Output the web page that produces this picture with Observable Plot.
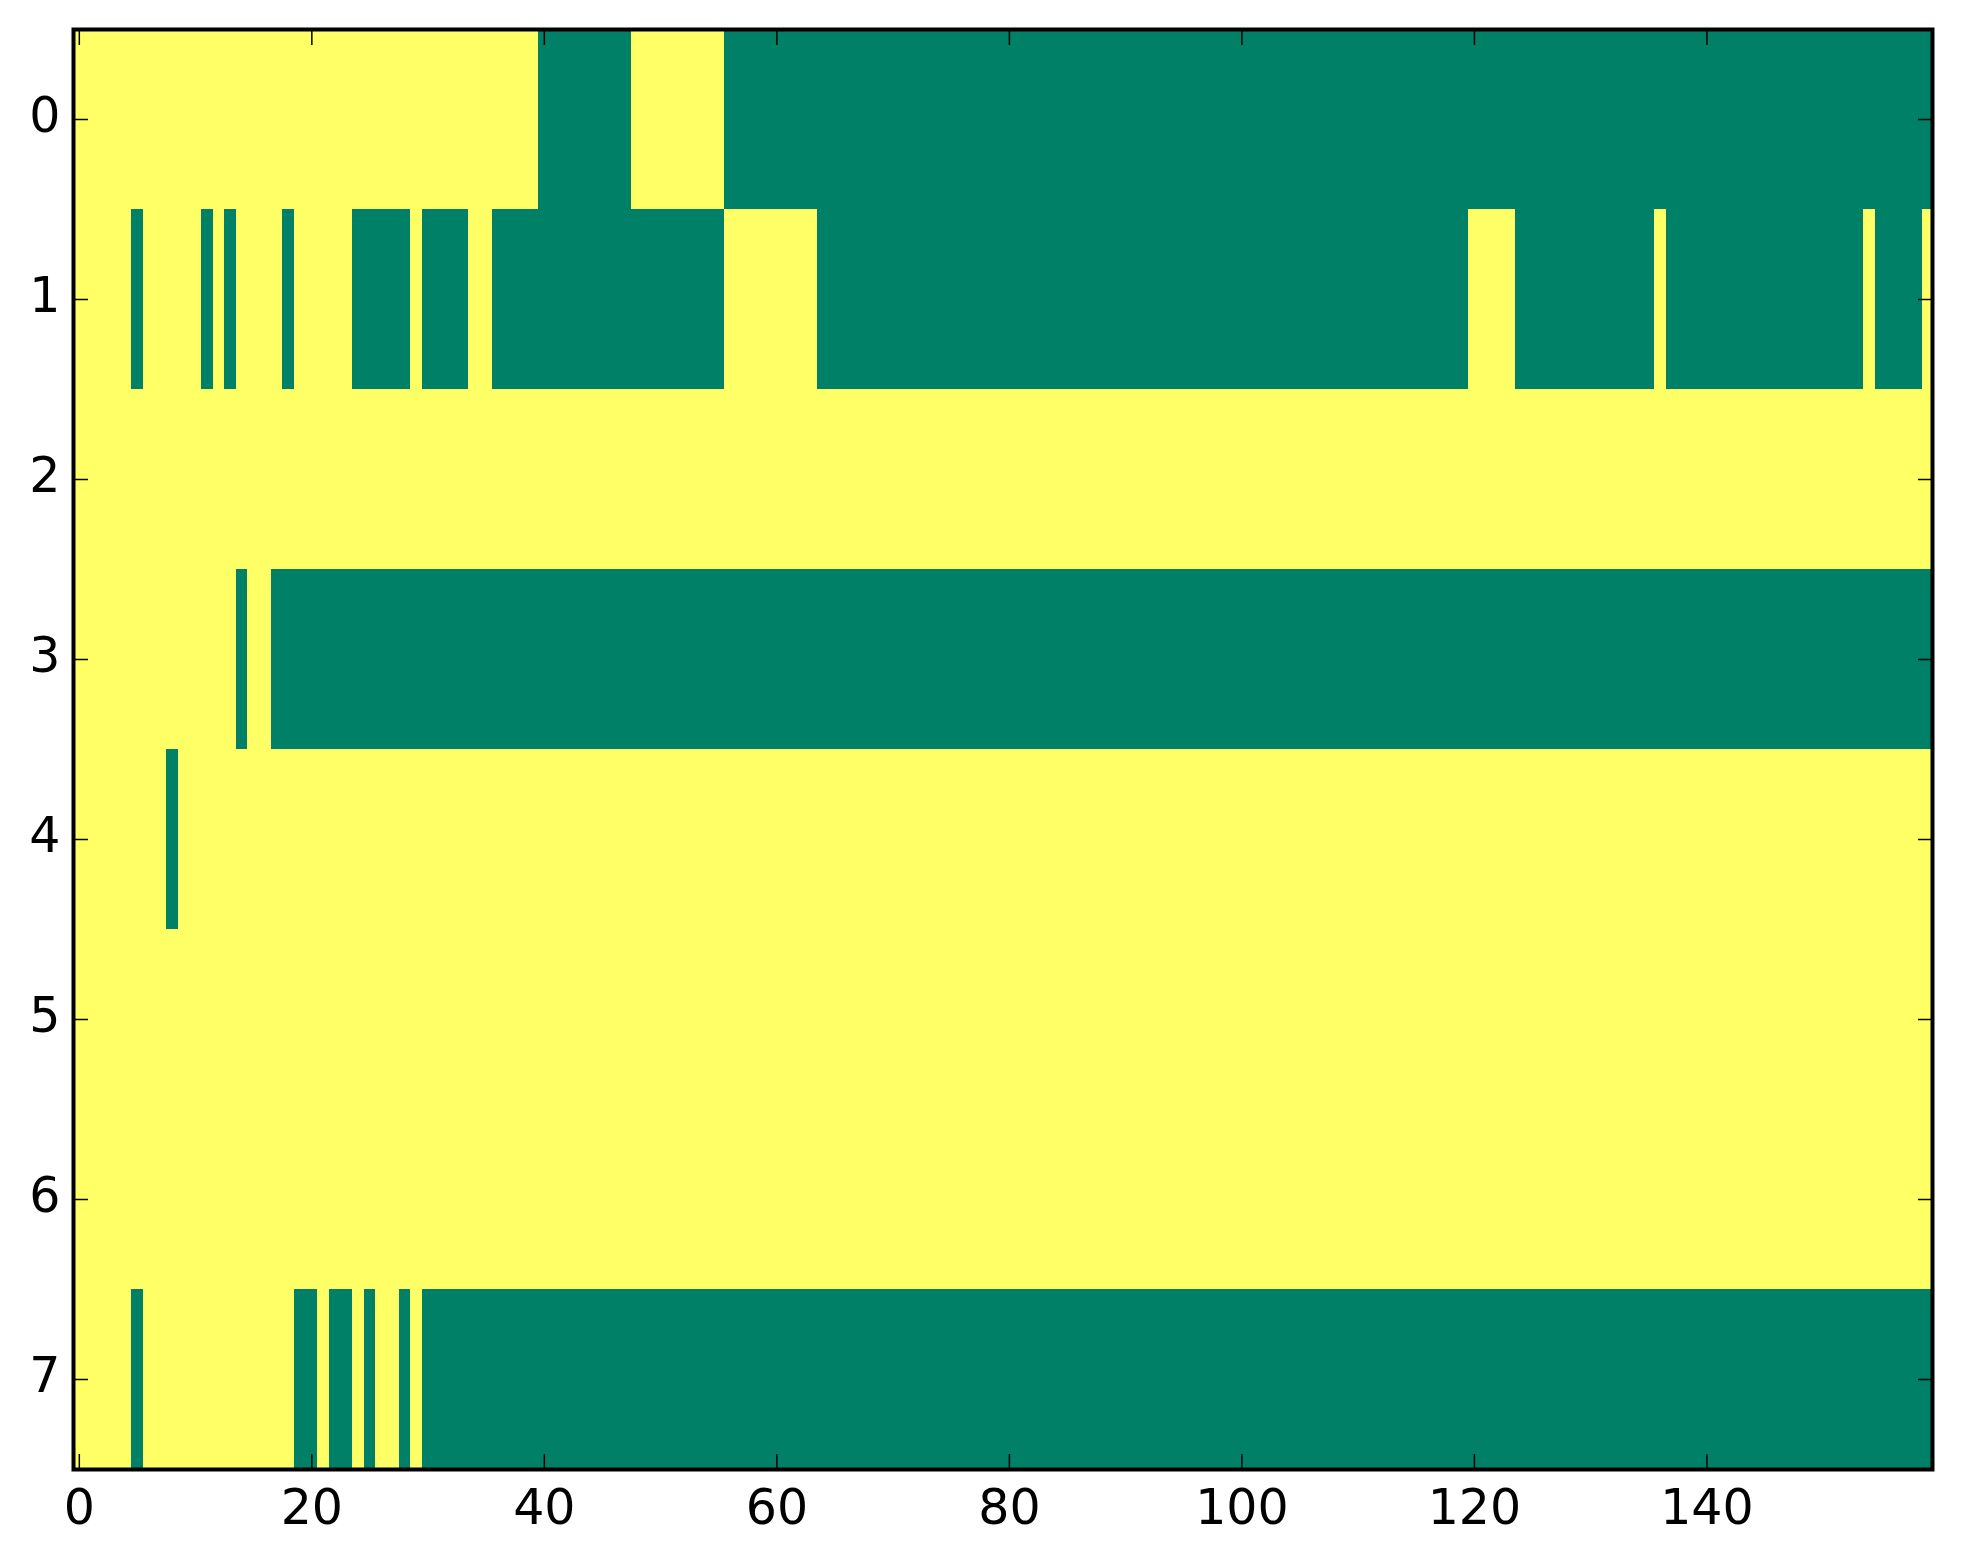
<!DOCTYPE html>
<html lang="en">
<head>
    <meta charset="UTF-8">
    <title>Binary matrix</title>
    <script src="https://d3js.org/d3.v7.min.js"></script>
    <script src="https://cdn.jsdelivr.net/npm/@observablehq/plot@0.6"></script>
    <style>
        body { margin: 0; background: white; }
    </style>
</head>
<body>
    <div id="chart"></div>

    <script>
    // one string per row, 10 columns per chunk, 1 = yellow, 0 = green
    const row0 = ["1111111111","1111111111","1111111111","1111111111","0000000011","1111110000","0000000000","0000000000",
                  "0000000000","0000000000","0000000000","0000000000","0000000000","0000000000","0000000000","0000000000"];
    const row1 = ["1111101111","1010111101","1111000001","0000110000","0000000000","0000001111","1111000000","0000000000",
                  "0000000000","0000000000","0000000000","0000000000","1111000000","0000001000","0000000000","0000100001"];
    const row2 = ["1111111111","1111111111","1111111111","1111111111","1111111111","1111111111","1111111111","1111111111",
                  "1111111111","1111111111","1111111111","1111111111","1111111111","1111111111","1111111111","1111111111"];
    const row3 = ["1111111111","1111011000","0000000000","0000000000","0000000000","0000000000","0000000000","0000000000",
                  "0000000000","0000000000","0000000000","0000000000","0000000000","0000000000","0000000000","0000000000"];
    const row4 = ["1111111101","1111111111","1111111111","1111111111","1111111111","1111111111","1111111111","1111111111",
                  "1111111111","1111111111","1111111111","1111111111","1111111111","1111111111","1111111111","1111111111"];
    const row5 = ["1111111111","1111111111","1111111111","1111111111","1111111111","1111111111","1111111111","1111111111",
                  "1111111111","1111111111","1111111111","1111111111","1111111111","1111111111","1111111111","1111111111"];
    const row6 = ["1111111111","1111111111","1111111111","1111111111","1111111111","1111111111","1111111111","1111111111",
                  "1111111111","1111111111","1111111111","1111111111","1111111111","1111111111","1111111111","1111111111"];
    const row7 = ["1111101111","1111111110","0100101101","0000000000","0000000000","0000000000","0000000000","0000000000",
                  "0000000000","0000000000","0000000000","0000000000","0000000000","0000000000","0000000000","0000000000"];

    const rows = [row0, row1, row2, row3, row4, row5, row6, row7];
    const xTicks = [0, 20, 40, 60, 80, 100, 120, 140];
    const yTicks = [0, 1, 2, 3, 4, 5, 6, 7];

    const cells = [];
    rows.forEach((chunks, r) => {
        chunks.join("").split("").forEach((ch, c) => {
            cells.push({row: r, col: c, value: +ch});
        });
    });

    const plot = Plot.plot({
        width: 1963,
        height: 1564,
        marginLeft: 73,
        marginRight: 31,
        marginTop: 29,
        marginBottom: 95,
        style: {fontFamily: "DejaVu Sans", fontSize: "49px", background: "white", color: "black"},
        x: {domain: [-0.5, 159.4]},
        y: {domain: [7.5, -0.5]},
        color: {type: "ordinal", domain: [0, 1], range: ["#008066", "#ffff66"]},
        marks: [
            Plot.rect(cells, {
                x1: d => d.col - 0.5,
                x2: d => d.col + 0.5,
                y1: d => d.row - 0.5,
                y2: d => d.row + 0.5,
                fill: "value",
                clip: true,
                shapeRendering: "crispEdges"
            }),
            Plot.axisX(xTicks, {anchor: "bottom", tickSize: 0, tickPadding: 20, tickFormat: d => String(d), label: null}),
            Plot.axisX(xTicks, {anchor: "bottom", tickSize: -15, text: null, label: null, strokeWidth: 1.5}),
            Plot.axisX(xTicks, {anchor: "top", tickSize: -15, text: null, label: null, strokeWidth: 1.5}),
            Plot.axisY(yTicks, {anchor: "left", tickSize: 0, tickPadding: 13, dy: -3, tickFormat: d => String(d), label: null}),
            Plot.axisY(yTicks, {anchor: "left", tickSize: -15, text: null, label: null, strokeWidth: 1.5}),
            Plot.axisY(yTicks, {anchor: "right", tickSize: -15, text: null, label: null, strokeWidth: 1.5}),
            Plot.frame({stroke: "black", strokeWidth: 4})
        ]
    });
    document.getElementById('chart').replaceChildren(plot);
    </script>
</body>
</html>
